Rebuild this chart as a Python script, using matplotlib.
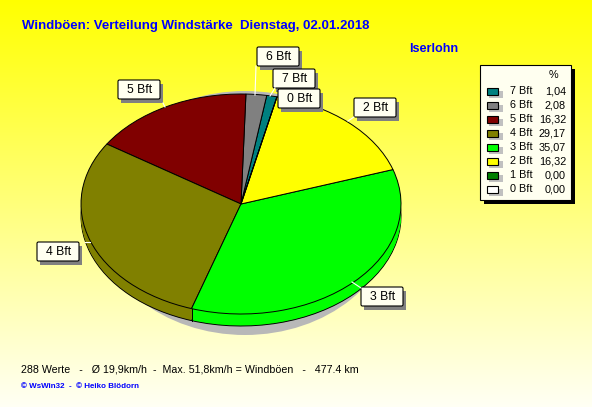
import numpy as np
import matplotlib
matplotlib.use("Agg")
import matplotlib.pyplot as plt
from matplotlib.patches import Rectangle, Ellipse, FancyBboxPatch

plt.rcParams['font.family'] = ['Liberation Sans', 'DejaVu Sans']

# legend order, also the pie order (counterclockwise)
labels = ["7 Bft", "6 Bft", "5 Bft", "4 Bft", "3 Bft", "2 Bft", "1 Bft", "0 Bft"]
values = [1.04, 2.08, 16.32, 29.17, 35.07, 16.32, 0.00, 0.00]
colors = ["#008080", "#808080", "#800000", "#808000", "#00FF00", "#FFFF00", "#008000", "#FFFFFF"]

title = "Windböen: Verteilung Windstärke  Dienstag, 02.01.2018"
place = "Iserlohn"
footer = "288 Werte   -   Ø 19,9km/h  -  Max. 51,8km/h = Windböen   -   477.4 km"
credit = "© WsWin32  -  © Heiko Blödorn"

W, H = 592, 407
CX, CY, RX, RY = 241, 204, 160, 110
DEPTH = 12
START = 77

fig = plt.figure(figsize=(W / 100, H / 100), dpi=100)

# background and pie shadow, pixel coords
bg = fig.add_axes([0, 0, 1, 1], zorder=0)
bg.set_xlim(0, W)
bg.set_ylim(H, 0)
bg.axis("off")
grad = np.ones((H, 1, 3))
grad[:, 0, 2] = np.linspace(0, 0.96, H)
bg.imshow(grad, extent=(0, W, H, 0), aspect="auto", interpolation="bilinear")
bg.add_patch(Ellipse((245, 213), 300, 244, fc="#B8B8B8", ec="none"))

# pie axes: the unit circle lands on the ellipse
pie_ax = fig.add_axes([0, 0, 1, 1], zorder=1)
pie_ax.patch.set_alpha(0)
pie_ax.axis("off")


def draw_pie(dy, edge):
    style = {"edgecolor": "black", "linewidth": 0.7} if edge else {"edgecolor": "none", "linewidth": 0}
    pie_ax.pie(values, colors=colors, startangle=START, counterclock=True,
               center=(0, -dy / RY), radius=1, wedgeprops=style, frame=True)


draw_pie(DEPTH, True)
for d in range(DEPTH - 1, 0, -1):
    draw_pie(d, False)
draw_pie(0, True)
pie_ax.set_aspect("auto")
pie_ax.set_xlim(-CX / RX, (W - CX) / RX)
pie_ax.set_ylim((CY - H) / RY, CY / RY)
pie_ax.axis("off")

# edge of the wall between 4 Bft and 3 Bft
ang = np.radians(START + sum(values[:4]) * 3.6)
pie_ax.plot([np.cos(ang)] * 2, [np.sin(ang), np.sin(ang) - DEPTH / RY], color="black", lw=0.7)

# labels, legend and texts, pixel coords
top = fig.add_axes([0, 0, 1, 1], zorder=2)
top.patch.set_alpha(0)
top.set_xlim(0, W)
top.set_ylim(H, 0)
top.axis("off")

top.text(22, 25.5, title, color="#0000FF", fontsize=9.5, fontweight="bold", va="center")
top.text(409, 49.5, place, color="#0000FF", fontsize=9.1, fontweight="bold", va="center")
top.text(21, 369, footer, color="black", fontsize=7.7, va="center")
top.text(21, 386.5, credit, color="#0000FF", fontsize=5.8, fontweight="bold", va="center")

# leader lines from the pie to the boxes
leaders = [((256, 66), (255, 95)), ((275, 88), (270, 96)), ((354, 117), (348, 121)),
           ((361, 288), (352, 282)), ((163, 103), (165, 107)), ((85, 242), (90, 242))]
for a, b in leaders:
    top.plot([a[0], b[0]], [a[1], b[1]], color="white", lw=0.8)

# slice label boxes: name, left, top
boxes = [("5 Bft", 118, 80), ("4 Bft", 37, 242), ("6 Bft", 257, 47), ("7 Bft", 273, 69),
         ("0 Bft", 278, 89), ("2 Bft", 354, 98), ("3 Bft", 361, 287)]
for name, x, y in boxes:
    top.add_patch(Rectangle((x + 3, y + 4), 42, 19, fc="#808080", ec="none"))
    top.add_patch(FancyBboxPatch((x + 1, y + 1), 40, 17, boxstyle="round,pad=1,rounding_size=1.5",
                                 fc="#FFFFF0", ec="black", lw=0.8))
    top.text(x + 22, y + 10, name, fontsize=8.8, ha="center", va="center", color="black")

# legend
top.add_patch(Rectangle((484, 69), 91, 135, fc="black", ec="none"))
top.add_patch(Rectangle((480, 65), 91, 135, fc="#FFFFF0", ec="black", lw=0.8))
top.text(553, 75.5, "%", fontsize=7.8, ha="center", va="center")
for i, (name, val, col) in enumerate(zip(labels, values, colors)):
    y = 91 + i * 14
    top.add_patch(Rectangle((489, y), 14, 7, fc="#C0C0C0", ec="none"))
    top.add_patch(Rectangle((487, y - 3.5), 11, 7, fc=col, ec="black", lw=0.8))
    top.text(510, y + 0.5, name, fontsize=7.8, va="center")
    top.text(566, y + 0.5, f"{val:.2f}".replace(".", ","), fontsize=7.8, ha="right", va="center")

fig.savefig("out.png", dpi=100)
